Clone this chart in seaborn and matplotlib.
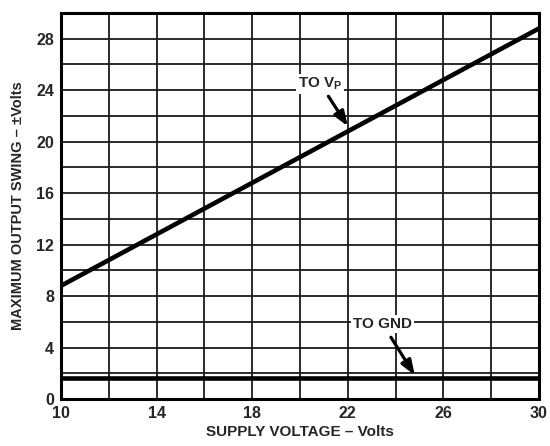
import matplotlib
matplotlib.use("Agg")
import matplotlib.pyplot as plt
import seaborn as sns
import pandas as pd
import numpy as np

supply_v = [10, 30]
to_vp = [8.8, 28.8]
to_gnd = [1.6, 1.6]
x_ticks = [10, 14, 18, 22, 26, 30]
y_ticks = [0, 4, 8, 12, 16, 20, 24, 28]

sns.set_theme(style="white")
plt.rcParams['font.family'] = ['Liberation Sans', 'DejaVu Sans']
plt.rcParams['font.weight'] = 'bold'
plt.rcParams['mathtext.fontset'] = 'custom'
plt.rcParams['mathtext.bf'] = 'Liberation Sans:bold'

fig = plt.figure(figsize=(5.5, 4.46), dpi=100)
ax = fig.add_axes([61/550, 47/446, 478/550, 386/446])

df = pd.DataFrame({"v": supply_v * 2, "y": to_vp + to_gnd,
                   "s": ["vp", "vp", "gnd", "gnd"]})
sns.lineplot(data=df, x="v", y="y", hue="s", palette={"vp": "black", "gnd": "black"},
             linewidth=3.3, legend=False, ax=ax, zorder=3)

ax.set_xlim(10, 30)
ax.set_ylim(0, 30)
ax.set_xticks(np.arange(10, 31, 2), minor=True)
ax.set_yticks(np.arange(0, 31, 2), minor=True)
ax.set_xticks(x_ticks)
ax.set_yticks(y_ticks)
ax.grid(True, which='both', color='#1a1a1a', linewidth=1.3)
ax.tick_params(which='both', length=0, labelsize=11.5, pad=5)
for lab in ax.get_xticklabels() + ax.get_yticklabels():
    lab.set_fontweight('bold')
for s in ax.spines.values():
    s.set_color('black')
    s.set_linewidth(2.2)

ax.set_xlabel("SUPPLY VOLTAGE – Volts", fontsize=11, fontweight='bold', labelpad=3)
ax.set_ylabel("MAXIMUM OUTPUT SWING – ±Volts", fontsize=10.5, fontweight='bold', labelpad=8)

bbox = dict(boxstyle='square,pad=0.12', fc='white', ec='none')
ax.annotate("TO V$_\\mathbf{P}$", xy=(22.0, 21.2), xytext=(20.85, 24.5),
            ha='center', va='center', fontsize=11, fontweight='bold', bbox=bbox,
            arrowprops=dict(arrowstyle='-|>,head_length=0.8,head_width=0.3', color='black', lw=2.3,
                            shrinkA=2, shrinkB=0), zorder=4)
ax.annotate("TO GND", xy=(24.8, 1.85), xytext=(23.45, 5.85),
            ha='center', va='center', fontsize=11, fontweight='bold', bbox=bbox,
            arrowprops=dict(arrowstyle='-|>,head_length=0.8,head_width=0.3', color='black', lw=2.3,
                            shrinkA=4, shrinkB=0), zorder=4)

fig.savefig("out.png", dpi=100)
